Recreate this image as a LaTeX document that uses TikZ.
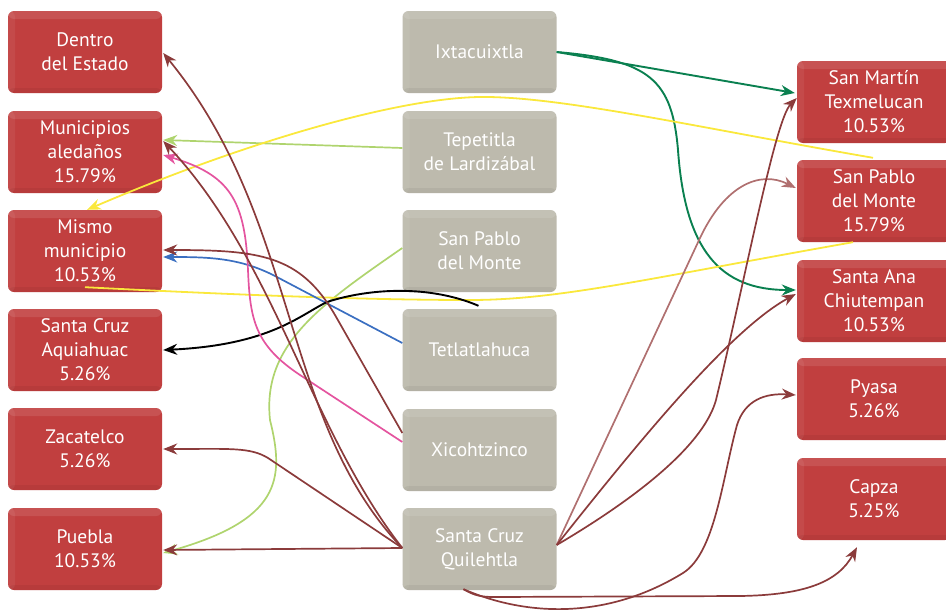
\documentclass[tikz,border=0pt]{standalone}
\usepackage{fontspec}
\setmainfont{PT Sans}
\usetikzlibrary{arrows.meta,calc}
\definecolor{boxred}{HTML}{C13F3F}
\definecolor{boxgrey}{HTML}{BDBAAD}
\definecolor{cbrown}{HTML}{8B3B3B}
\definecolor{clbrown}{HTML}{B07070}
\definecolor{cgreen}{HTML}{0A8050}
\definecolor{clgreen}{HTML}{AFD46E}
\definecolor{cyellow}{HTML}{FAE83C}
\definecolor{cblue}{HTML}{3B6FC1}
\definecolor{cpink}{HTML}{E4549F}
\begin{document}
\begin{tikzpicture}[x=1pt,y=-1pt,
  bevel/.style={path picture={
    \fill[white,opacity=0.10] (path picture bounding box.north west) rectangle ([yshift=-8pt]path picture bounding box.north east);
    \fill[white,opacity=0.06] (path picture bounding box.north west) rectangle ([xshift=7pt]path picture bounding box.south west);
    \fill[black,opacity=0.05] ([yshift=5pt]path picture bounding box.south west) rectangle (path picture bounding box.south east);
  }},
  box/.style={rounded corners=6pt, minimum width=154pt, minimum height=82pt, inner sep=0pt,
    align=center, text=white, font=\fontsize{19.5}{24}\selectfont, bevel},
  redbox/.style={box, fill=boxred},
  greybox/.style={box, fill=boxgrey},
  conn/.style={line width=1.7pt, -{Stealth[length=14pt,width=11pt,inset=4.5pt]}},
  plainconn/.style={line width=1.7pt},
]
\clip (0,0) rectangle (946,613);
\useasboundingbox (0,0) rectangle (946,613);

% left column
\node[redbox] (dentro) at (85,52) {Dentro\\del Estado};
\node[redbox] (mun) at (85,152) {Municipios\\aledaños\\15.79\%};
\node[redbox] (mismo) at (85,251) {Mismo\\municipio\\10.53\%};
\node[redbox] (aqui) at (85,350) {Santa Cruz\\Aquiahuac\\5.26\%};
\node[redbox] (zaca) at (85,449) {Zacatelco\\5.26\%};
\node[redbox] (puebla) at (85,549) {Puebla\\10.53\%};

% middle column
\node[greybox] (ixt) at (479.5,52) {Ixtacuixtla};
\node[greybox] (tep) at (479.5,152) {Tepetitla\\de Lardizábal};
\node[greybox] (spm) at (479.5,251) {San Pablo\\del Monte};
\node[greybox] (tet) at (479.5,350) {Tetlatlahuca};
\node[greybox] (xico) at (479.5,450) {Xicohtzinco};
\node[greybox] (quil) at (479.5,549) {Santa Cruz\\Quilehtla};

% right column
\node[redbox] (sm) at (874,102) {San Martín\\Texmelucan\\10.53\%};
\node[redbox] (spr) at (874,201) {San Pablo\\del Monte\\15.79\%};
\node[redbox] (sa) at (874,301) {Santa Ana\\Chiutempan\\10.53\%};
\node[redbox] (pyasa) at (874,399) {Pyasa\\5.26\%};
\node[redbox] (capza) at (874,499) {Capza\\5.25\%};

% Ixtacuixtla
\draw[conn, cgreen, line width=1.9pt] ($(ixt.east)+(0,0)$) -- ($(sm.west)+(-2,-9)$);
\draw[conn, cgreen, line width=1.9pt] ($(ixt.east)+(0,0)$) .. controls (650,60) and (672,80) .. (678,150)
  .. controls (685,250) and (720,290) .. ($(sa.west)+(-1,-11)$);

% Tepetitla
\draw[conn, clgreen] ($(tep.west)+(0,-4)$) -- ($(mun.east)+(1,-12)$);

% San Pablo del Monte (middle)
\draw[conn, clgreen] ($(spm.west)+(0,-3)$) .. controls (320,305) and (262,345) .. (270,420)
  .. controls (285,480) and (280,520) .. ($(puebla.east)+(1,4)$);

% San Pablo del Monte (right) yellow
\draw[conn, cyellow, line width=1.8pt] ($(spr.north)+(-1,-2)$) .. controls (700,128) and (560,96) .. (480,97)
  .. controls (400,98) and (250,140) .. ($(mismo.north)+(2,0)$);
\draw[plainconn, cyellow, line width=1.8pt] ($(spr.south)+(-21,0)$) .. controls (650,278) and (560,300) .. (470,300)
  .. controls (350,300) and (200,293) .. ($(mismo.south)+(0,-5)$);

% Tetlatlahuca
\draw[conn, cblue] ($(tet.west)+(0,-7)$) -- (275,276) .. controls (240,258) and (210,257) .. ($(mismo.east)+(1,6)$);
\draw[conn, black, line width=1.9pt] ($(tet.north)+(-1,-3)$) .. controls (430,285) and (370,288) .. (327,302)
  .. controls (300,315) and (270,345) .. ($(aqui.east)+(1,0)$);

% Xicohtzinco
\draw[conn, cpink] ($(xico.west)+(0,-8)$) -- (300,375) .. controls (255,345) and (250,320) .. (248,270)
  .. controls (245,200) and (230,175) .. ($(mun.east)+(1,3)$);
\draw[conn, cbrown] ($(xico.west)+(0,-17)$) -- (335,315) .. controls (300,255) and (260,250) .. ($(mismo.east)+(1,-1)$);

% Santa Cruz Quilehtla - left
\draw[conn, cbrown] ($(quil.west)+(0,-1)$) .. controls (280,420) and (300,220) .. ($(dentro.east)+(1,1)$);
\draw[conn, cbrown] ($(quil.west)+(0,-1)$) .. controls (310,430) and (275,260) .. ($(mun.east)+(1,-11)$);
\draw[conn, cbrown] ($(quil.west)+(0,-1)$) -- (268,458) .. controls (250,447) and (230,449) .. ($(zaca.east)+(1,0)$);
\draw[conn, cbrown] ($(quil.west)+(0,-1)$) -- ($(puebla.east)+(1,1)$);

% Santa Cruz Quilehtla - right
\draw[conn, clbrown] ($(quil.east)+(0,-4)$) -- (700,238) .. controls (725,185) and (760,170) .. ($(spr.west)+(-1,-13)$);
\draw[conn, cbrown] ($(quil.east)+(0,-4)$) .. controls (640,440) and (730,330) .. ($(sa.west)+(-1,-7)$);
\draw[conn, cbrown] ($(quil.east)+(0,-4)$) .. controls (650,490) and (705,440) .. (716,400)
  .. controls (745,280) and (775,120) .. ($(sm.west)+(0,-4)$);
\draw[conn, cbrown] ($(quil.south)+(-16,-1)$) .. controls (530,618) and (610,618) .. (683,573)
  .. controls (715,553) and (722,480) .. (737,425) .. controls (745,400) and (765,393) .. ($(pyasa.west)+(-1,-4)$);
\draw[conn, cbrown] ($(quil.south)+(-16,-1)$) .. controls (475,596) and (482,597) .. (495,597) -- (740,596)
  .. controls (805,595) and (838,582) .. ($(capza.south)+(-17,7)$);
\end{tikzpicture}
\end{document}
